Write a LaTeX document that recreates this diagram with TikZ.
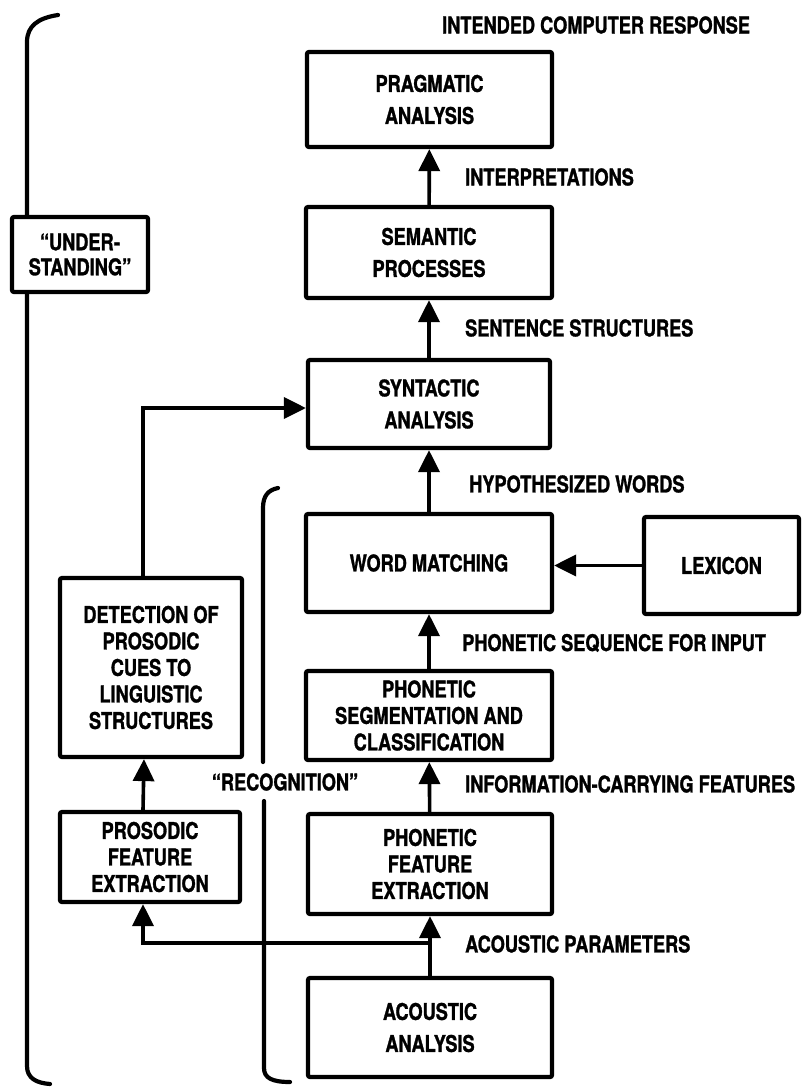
\documentclass[tikz,border=0pt]{standalone}
\usepackage{fontspec}
\setmainfont{TeX Gyre Heros}[FakeStretch=0.79, BoldFeatures={FakeBold=1.2}]
\usetikzlibrary{arrows.meta}
\begin{document}
\begin{tikzpicture}[x=1pt,y=-1pt,
  box/.style={draw, line width=4.2pt, rounded corners=2pt, align=center, inner sep=0pt, fill=white,
    font=\bfseries\fontsize{23}{32}\selectfont},
  tight/.style={font=\bfseries\fontsize{23}{26.5}\selectfont},
  arr/.style={line width=3.6pt, -{Triangle[length=22pt,width=21pt]}},
  lbl/.style={anchor=west, inner sep=0pt, font=\bfseries\fontsize{23}{26}\selectfont},
  brk/.style={line width=4.2pt, line cap=round}]
\useasboundingbox (0,0) rectangle (804,1090);
% brackets
\draw[brk] (58,15) .. controls (38,18) and (27,26) .. (27,42) -- (27,1066) .. controls (27,1078) and (36,1083) .. (50,1084);
\draw[brk] (278,488) .. controls (268,490) and (263,496) .. (263,508) -- (263,762);
\draw[brk] (264,801) -- (264,1068) .. controls (264,1078) and (272,1082) .. (290,1082);
% boxes
\node[box, minimum width=245pt, minimum height=95pt] (prag) at (429.5,99.5) {PRAGMATIC\\ANALYSIS};
\node[box, minimum width=246pt, minimum height=91pt] (sem) at (429,252.5) {SEMANTIC\\PROCESSES};
\node[box, minimum width=242pt, minimum height=88pt] (syn) at (429,404) {SYNTACTIC\\ANALYSIS};
\node[box, minimum width=246pt, minimum height=98pt] (word) at (429,563) {WORD MATCHING};
\node[box, minimum width=155pt, minimum height=97pt] (lex) at (721.5,565.5) {LEXICON};
\node[box, tight, minimum width=246pt, minimum height=89pt] (seg) at (429,715.5) {PHONETIC\\SEGMENTATION AND\\CLASSIFICATION};
\node[box, tight, minimum width=244pt, minimum height=100pt] (feat) at (430,864) {PHONETIC\\FEATURE\\EXTRACTION};
\node[box, minimum width=244pt, minimum height=99pt] (acou) at (430,1027.5) {ACOUSTIC\\ANALYSIS};
\node[box, tight, minimum width=180pt, minimum height=90pt] (pros) at (150,857) {PROSODIC\\FEATURE\\EXTRACTION};
\node[box, tight, minimum width=182pt, minimum height=179pt] (det) at (151,667.5) {DETECTION OF\\PROSODIC\\CUES TO\\LINGUISTIC\\STRUCTURES};
\node[box, font=\bfseries\fontsize{23}{25}\selectfont, minimum width=136pt, minimum height=75pt] (und) at (80,254.5) {“UNDER-\\STANDING”};
% connectors
\draw[arr] (sem) -- (prag);
\draw[arr] (syn) -- (sem);
\draw[arr] (word) -- (syn);
\draw[arr] (seg) -- (word);
\draw[arr] (feat) -- (seg);
\draw[arr] (acou) -- (feat);
\draw[arr] (lex.west) -- (lex.west -| word.east);
\coordinate (jn) at (430,943);
\draw[arr] (jn) -| ([xshift=-7pt]pros.south);
\draw[arr] ([xshift=-7pt]pros.north) -- ([xshift=-7pt]det.south);
\draw[arr] ([xshift=-8pt]det.north) |- ([yshift=-4pt]syn.west);
% labels
\node[lbl] (l1) at (442,25) {INTENDED COMPUTER RESPONSE};
\node[lbl] (l2) at (465,177) {INTERPRETATIONS};
\node[lbl] (l3) at (465,328) {SENTENCE STRUCTURES};
\node[lbl] (l4) at (469,484) {HYPOTHESIZED WORDS};
\node[lbl] (l5) at (462,643) {PHONETIC SEQUENCE FOR INPUT};
\node[lbl] (l6) at (465,784) {INFORMATION-CARRYING FEATURES};
\node[lbl] (l7) at (465,944) {ACOUSTIC PARAMETERS};
\node[lbl, anchor=center] (rec) at (285,782) {“RECOGNITION”};
\end{tikzpicture}
\end{document}
